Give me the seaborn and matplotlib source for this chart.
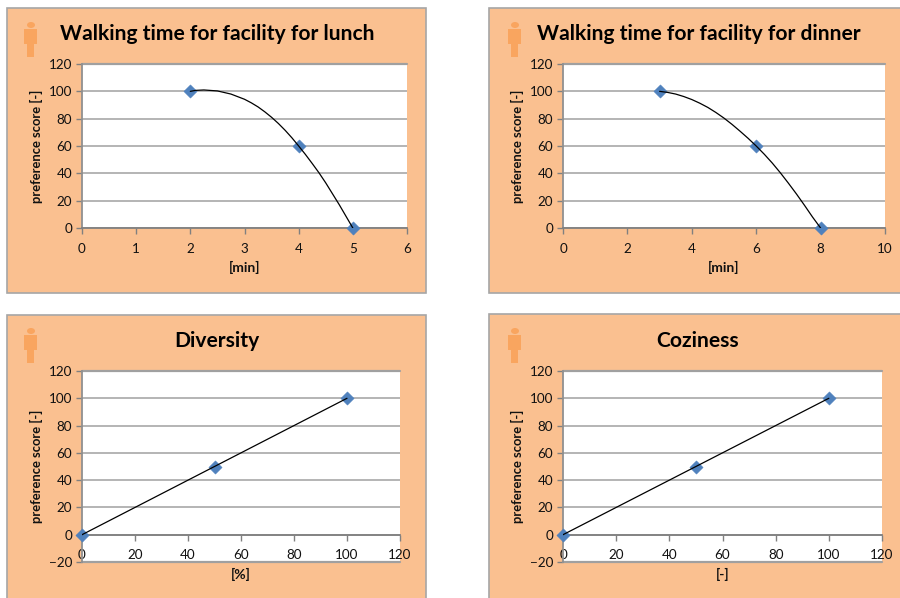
import matplotlib
matplotlib.use("Agg")
import matplotlib.pyplot as plt
from matplotlib.patches import Rectangle, Ellipse
import seaborn as sns

sns.set_theme(style="white")
plt.rcParams['font.family'] = ['Lato', 'DejaVu Sans']

W, H = 900, 598
BG = '#FAC090'
EDGE = '#A6A6A6'
GRID = '#A0A0A0'
ICON = '#F9A55F'
MARK = '#4F81BD'

titles = ["Walking time for facility for lunch", "Walking time for facility for dinner", "Diversity", "Coziness"]
xlabels = ["[min]", "[min]", "[%]", "[-]"]
ylabel = "preference score [-]"

lunch_x = [2, 4, 5]
lunch_y = [100, 60, 0]
dinner_x = [3, 6, 8]
dinner_y = [100, 60, 0]
diversity_x = [0, 50, 100]
diversity_y = [0, 50, 100]
coziness_x = [0, 50, 100]
coziness_y = [0, 50, 100]

lunch_curve_x = [2, 2.1, 2.25, 2.5, 2.75, 3, 3.125, 3.25, 3.375, 3.5, 3.625, 3.75, 3.875, 4,
                 4.125, 4.25, 4.375, 4.5, 4.625, 4.75, 4.875, 5]
lunch_curve_y = [100, 100.7, 101, 100.3, 98, 94.2, 91.6, 88.6, 85, 81, 76.5, 71.5, 66, 60,
                 53.8, 47.2, 40.4, 33, 25, 17, 8.5, 0]
dinner_curve_x = [3, 3.25, 3.5, 3.75, 4, 4.25, 4.5, 4.75, 5, 5.25, 5.5, 5.75, 6,
                  6.25, 6.5, 6.75, 7, 7.25, 7.5, 7.75, 8]
dinner_curve_y = [100, 99.2, 98, 96.2, 94, 91.3, 88.2, 84.5, 80.4, 75.8, 70.8, 65.6, 60,
                  54, 47.5, 40.4, 32.8, 24.9, 16.6, 8, 0]

xticks_a = [0, 1, 2, 3, 4, 5, 6]
xticks_b = [0, 2, 4, 6, 8, 10]
xticks_c = [0, 20, 40, 60, 80, 100, 120]
yticks_a = [0, 20, 40, 60, 80, 100, 120]
yticks_c = [-20, 0, 20, 40, 60, 80, 100, 120]

panels = [
    dict(box=(7, 8, 426, 293), ax=(82, 64, 407, 228), x=lunch_x, y=lunch_y, cx=lunch_curve_x, cy=lunch_curve_y,
         xt=xticks_a, yt=yticks_a, title_c=217, title_y=33, xl_y=267, yl_x=36, icon=30, icon_y=22, pad=7),
    dict(box=(489, 8, 905, 293), ax=(563, 64, 885, 228), x=dinner_x, y=dinner_y, cx=dinner_curve_x, cy=dinner_curve_y,
         xt=xticks_b, yt=yticks_a, title_c=699, title_y=33, xl_y=267, yl_x=517, icon=514, icon_y=22, pad=7),
    dict(box=(7, 315, 426, 603), ax=(82, 371, 400, 562), x=diversity_x, y=diversity_y, cx=diversity_x, cy=diversity_y,
         xt=xticks_c, yt=yticks_c, title_c=217, title_y=340.5, xl_y=574, yl_x=36, icon=30, icon_y=328, pad=6),
    dict(box=(489, 314, 905, 603), ax=(563, 371, 882, 562), x=coziness_x, y=coziness_y, cx=coziness_x, cy=coziness_y,
         xt=xticks_c, yt=yticks_c, title_c=698, title_y=340.5, xl_y=574, yl_x=517, icon=514, icon_y=328, pad=6),
]

fig = plt.figure(figsize=(W / 100, H / 100), dpi=100, facecolor='white')


def fx(px):
    return px / W


def fy(py):
    return 1 - py / H


for i, p in enumerate(panels):
    x0, y0, x1, y1 = p['box']
    fig.add_artist(Rectangle((fx(x0), fy(y1)), (x1 - x0) / W, (y1 - y0) / H, transform=fig.transFigure,
                             facecolor=BG, edgecolor=EDGE, linewidth=1.2, zorder=0))
    cx, top = p['icon'], p['icon_y']
    fig.add_artist(Ellipse((fx(cx + 1), fy(top + 3)), 8 / W, 6 / H, transform=fig.transFigure,
                           facecolor=ICON, edgecolor='none', zorder=0.5))
    fig.add_artist(Rectangle((fx(cx - 6), fy(top + 22)), 13 / W, 15 / H, transform=fig.transFigure,
                             facecolor=ICON, edgecolor='none', zorder=0.5))
    fig.add_artist(Rectangle((fx(cx - 3), fy(top + 35)), 7 / W, 14 / H, transform=fig.transFigure,
                             facecolor=ICON, edgecolor='none', zorder=0.5))

    a0, b0, a1, b1 = p['ax']
    ax = fig.add_axes([fx(a0), fy(b1), (a1 - a0) / W, (b1 - b0) / H], facecolor='white')
    ax.set_zorder(2)
    sns.lineplot(x=p['cx'], y=p['cy'], ax=ax, color='black', linewidth=0.9, estimator=None, sort=False, zorder=4)
    sns.scatterplot(x=p['x'], y=p['y'], ax=ax, marker='D', s=46, color=MARK, edgecolor=MARK,
                    linewidth=0.3, zorder=3, clip_on=False)

    ax.set_xlim(p['xt'][0], p['xt'][-1])
    ax.set_ylim(p['yt'][0], p['yt'][-1])
    ax.set_xticks(p['xt'])
    ax.set_yticks(p['yt'])
    ax.grid(axis='y', color=GRID, linewidth=1.1)
    ax.grid(axis='x', visible=False)
    ax.set_axisbelow(True)
    for s in ['top', 'right']:
        ax.spines[s].set_visible(False)
    ax.spines['left'].set_color('#909090')
    ax.spines['left'].set_linewidth(1.3)
    ax.spines['bottom'].set_color('#808080')
    ax.spines['bottom'].set_linewidth(1.3)
    ax.spines['bottom'].set_position(('data', 0))
    ax.tick_params(axis='both', length=4, width=1, color='#808080', labelsize=9.7, labelcolor='#111111',
                   direction='out', left=True, bottom=True)
    ax.tick_params(axis='x', pad=p['pad'])
    ax.tick_params(axis='y', pad=3)
    ax.axhline(p['yt'][-1], color=GRID, linewidth=1.6, clip_on=False, zorder=1)
    if p['yt'][0] < 0:
        ax.axhline(p['yt'][0], color=GRID, linewidth=1.6, clip_on=False, zorder=1)

    fig.text(fx((a0 + a1) / 2), fy(p['xl_y']), xlabels[i], ha='center', va='center',
             fontsize=10, fontweight='bold', color='#111111', zorder=3)
    fig.text(fx(p['yl_x']), fy((b0 + b1) / 2), ylabel, rotation=90, ha='center', va='center',
             fontsize=9.4, fontweight='bold', color='#111111', zorder=3)
    fig.text(fx(p['title_c']), fy(p['title_y'] + 0.5), titles[i], ha='center', va='center',
             fontsize=15.1, fontweight='bold', color='black', zorder=3)

fig.savefig('out.png', dpi=100, facecolor='white')
